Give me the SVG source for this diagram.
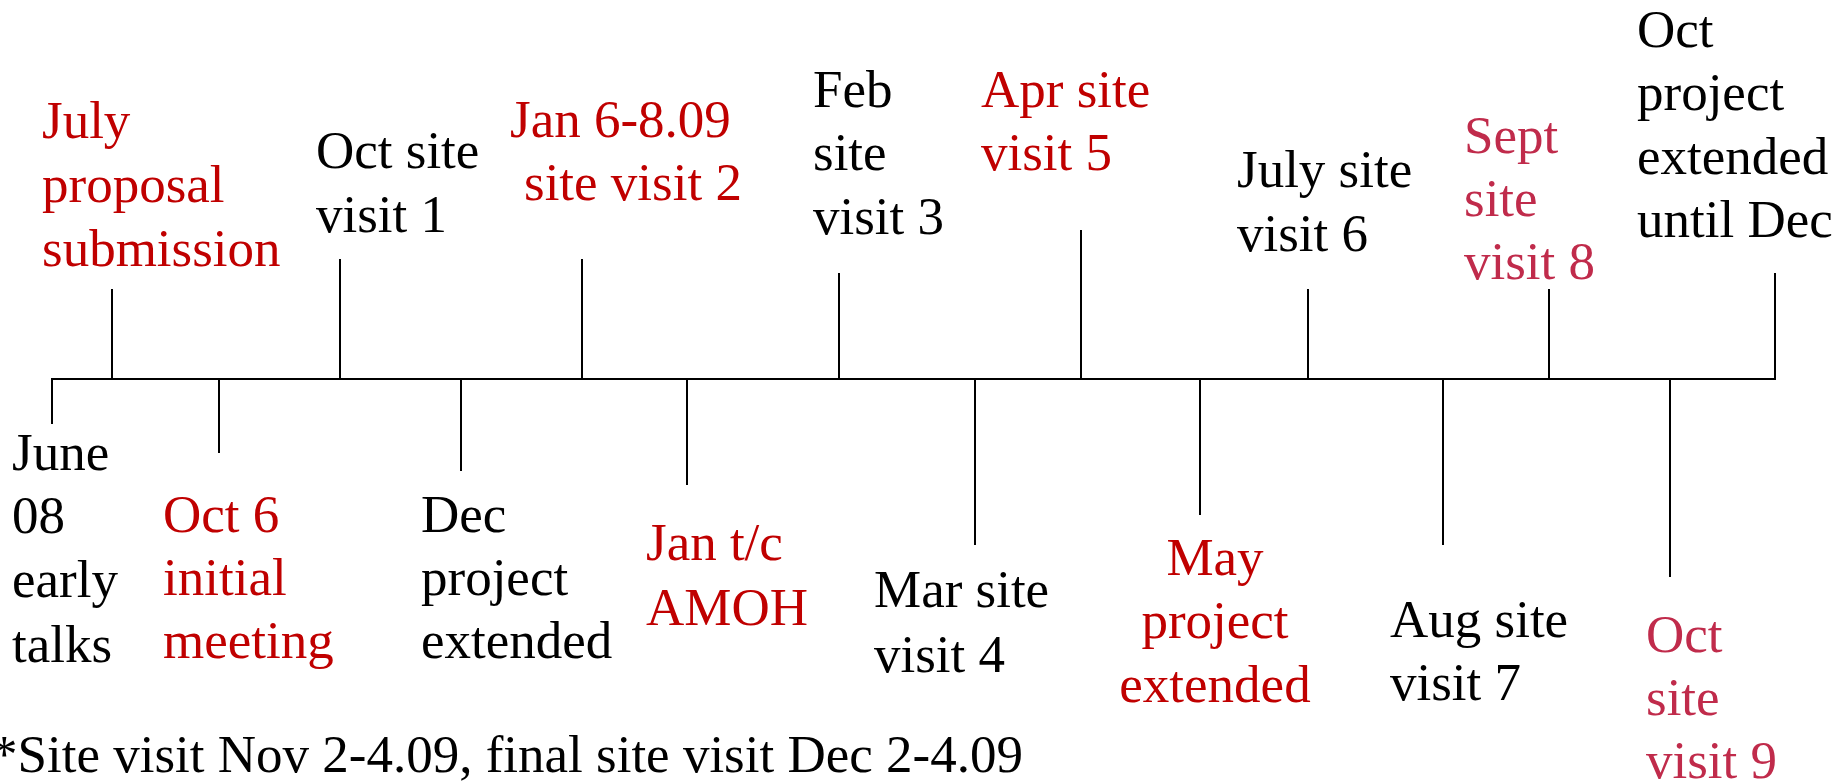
<svg xmlns="http://www.w3.org/2000/svg" width="1847" height="784" viewBox="0 0 1847 784">
<style>
text{font-family:"Liberation Serif","Times New Roman",serif;font-size:53px;fill:#000}
.r{fill:#C00000}
.p{fill:#C02B4B}
.ln{stroke:#000;stroke-width:2;fill:none}
</style>
<rect width="1847" height="784" fill="#fff"/>
<g id="connectors" class="ln">
<path d="M52,424V379H1775V273"/>
<path d="M112,379V289"/>
<path d="M340,379V259"/>
<path d="M582,379V259"/>
<path d="M839,379V273"/>
<path d="M1081,379V230"/>
<path d="M1308,379V289"/>
<path d="M1549,379V289"/>
<path d="M219,379V453"/>
<path d="M461,379V471"/>
<path d="M687,379V485"/>
<path d="M975,379V545"/>
<path d="M1200,379V515"/>
<path d="M1443,379V545"/>
<path d="M1670,379V577"/>
</g>
<g id="n-july-proposal"><text class="r" x="42" y="138">July</text><text class="r" x="42" y="202">proposal</text><text class="r" x="42" y="266">submission</text></g>
<g id="n-oct-visit1"><text x="316" y="168">Oct site</text><text x="316" y="232">visit 1</text></g>
<g id="n-jan-visit2"><text class="r" x="510" y="137">Jan 6-8.09</text><text class="r" x="524" y="200">site visit 2</text></g>
<g id="n-feb-visit3"><text x="813" y="107">Feb</text><text x="813" y="170">site</text><text x="813" y="234">visit 3</text></g>
<g id="n-apr-visit5"><text class="r" x="981" y="107">Apr site</text><text class="r" x="981" y="170">visit 5</text></g>
<g id="n-july-visit6"><text x="1237" y="187">July site</text><text x="1237" y="251">visit 6</text></g>
<g id="n-sept-visit8"><text class="p" x="1464" y="153">Sept</text><text class="p" x="1464" y="216">site</text><text class="p" x="1464" y="279">visit 8</text></g>
<g id="n-oct-extended"><text x="1637" y="47">Oct</text><text x="1637" y="110">project</text><text x="1637" y="174">extended</text><text x="1637" y="237">until Dec</text></g>
<g id="n-june-talks"><text x="12" y="470">June</text><text x="12" y="533">08</text><text x="12" y="597">early</text><text x="12" y="662">talks</text></g>
<g id="n-oct6-meeting"><text class="r" x="163" y="532">Oct 6</text><text class="r" x="163" y="595">initial</text><text class="r" x="163" y="658">meeting</text></g>
<g id="n-dec-extended"><text x="421" y="532">Dec</text><text x="421" y="595">project</text><text x="421" y="658">extended</text></g>
<g id="n-jan-amoh"><text class="r" x="646" y="560">Jan t/c</text><text class="r" x="646" y="625">AMOH</text></g>
<g id="n-mar-visit4"><text x="874" y="607">Mar site</text><text x="874" y="672">visit 4</text></g>
<g id="n-may-extended" text-anchor="middle"><text class="r" x="1215" y="575">May</text><text class="r" x="1215" y="638">project</text><text class="r" x="1215" y="702">extended</text></g>
<g id="n-aug-visit7"><text x="1390" y="637">Aug site</text><text x="1390" y="700">visit 7</text></g>
<g id="n-oct-visit9"><text class="p" x="1646" y="652">Oct</text><text class="p" x="1646" y="715">site</text><text class="p" x="1646" y="778">visit 9</text></g>
<g id="footnote"><text x="-9" y="772">*Site visit Nov 2-4.09, final site visit Dec 2-4.09</text></g>
</svg>
